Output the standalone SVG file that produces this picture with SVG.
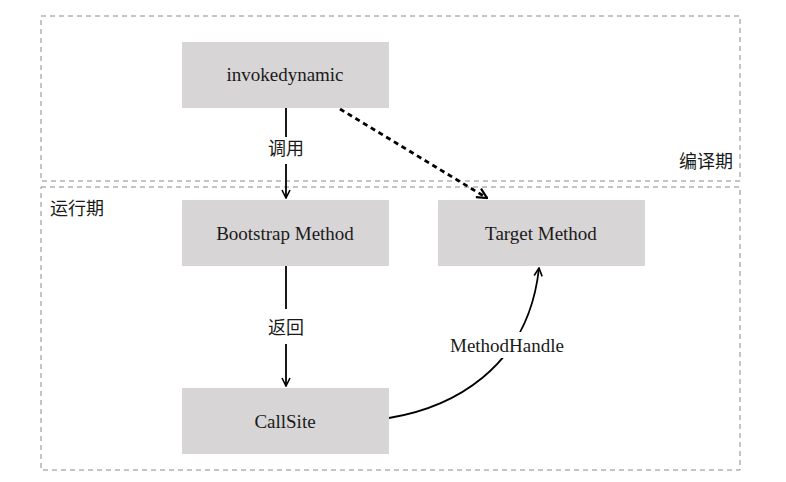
<svg xmlns="http://www.w3.org/2000/svg" width="786" height="482" viewBox="0 0 786 482">
<defs>
<style>
.zone{fill:none;stroke:#8a8a8a;stroke-width:1;stroke-dasharray:5,4}
.box{fill:#d7d5d5}
.t{font-family:"Liberation Serif","Noto Sans CJK SC",serif;font-size:19px;fill:#1a1a1a;text-anchor:middle}
.c{font-family:"Liberation Serif","Noto Sans CJK SC",serif;font-size:18px;fill:#1a1a1a}
.ln{fill:none;stroke:#000;stroke-width:1.8}
.dash{fill:none;stroke:#000;stroke-width:2.8;stroke-dasharray:5,4}
</style>
<marker id="ah" viewBox="0 0 10 10" refX="9" refY="5" markerWidth="10" markerHeight="10" markerUnits="userSpaceOnUse" orient="auto">
<path d="M1,1 L9,5 L1,9" fill="none" stroke="#000" stroke-width="1.6"/>
</marker>
<marker id="ah2" viewBox="0 0 12 12" refX="11" refY="6" markerWidth="12" markerHeight="12" markerUnits="userSpaceOnUse" orient="auto">
<path d="M1,1 L11,6 L1,11" fill="none" stroke="#000" stroke-width="2.2"/>
</marker>
</defs>
<rect width="786" height="482" fill="#fff"/>
<g id="zones">
<rect class="zone" x="41" y="16" width="699" height="165"/>
<rect class="zone" x="41" y="187" width="699" height="283"/>
<text class="c" x="733" y="168" text-anchor="end">编译期</text>
<text class="c" x="50" y="215">运行期</text>
</g>
<g id="connectors">
<line class="ln" x1="286" y1="108" x2="286" y2="137"/>
<line class="ln" x1="286" y1="164" x2="286" y2="198" marker-end="url(#ah)"/>
<text class="c" x="286" y="155" text-anchor="middle">调用</text>
<line class="dash" x1="340" y1="109" x2="487" y2="198" marker-end="url(#ah2)"/>
<line class="ln" x1="286" y1="266" x2="286" y2="309"/>
<line class="ln" x1="286" y1="344" x2="286" y2="386" marker-end="url(#ah)"/>
<text class="c" x="286" y="334" text-anchor="middle">返回</text>
<path class="ln" d="M389,418 C450,408 528,370 539,268" marker-end="url(#ah)"/>
<rect x="446" y="332" width="122" height="26" fill="#fff"/>
<text class="t" x="507" y="352">MethodHandle</text>
</g>
<g id="invokedynamic"><rect class="box" x="182" y="42" width="207" height="66"/><text class="t" x="285" y="81">invokedynamic</text></g>
<g id="bootstrap"><rect class="box" x="182" y="200" width="207" height="66"/><text class="t" x="285" y="240">Bootstrap Method</text></g>
<g id="target"><rect class="box" x="438" y="200" width="207" height="66"/><text class="t" x="541" y="240">Target Method</text></g>
<g id="callsite"><rect class="box" x="182" y="388" width="207" height="66"/><text class="t" x="285" y="428">CallSite</text></g>
</svg>
